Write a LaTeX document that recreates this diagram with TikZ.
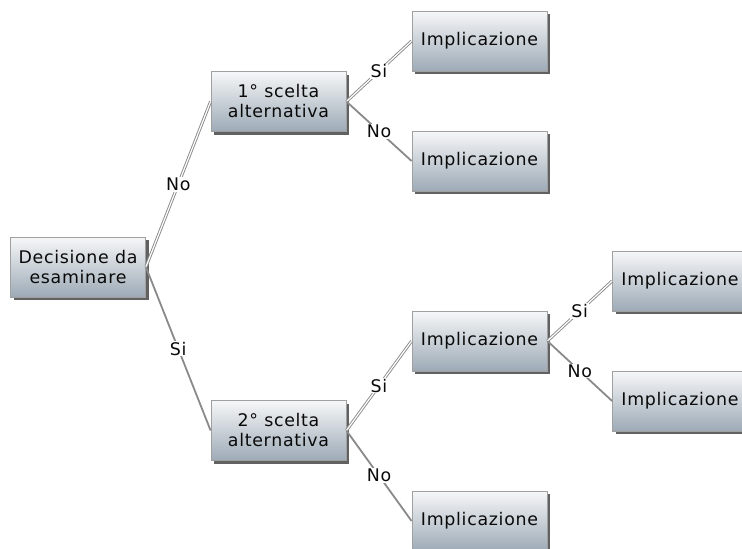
\documentclass[tikz,border=0pt]{standalone}
\usepackage{fontspec}
\setmainfont{DejaVu Sans}
\newfontfamily\boxfont{DejaVu Sans}[LetterSpace=4]
\usetikzlibrary{shadows}
\definecolor{boxtop}{HTML}{F6F7F8}
\definecolor{boxbot}{HTML}{9DAAB6}
\definecolor{boxline}{HTML}{A0A0A0}
\definecolor{edgecol}{HTML}{8A8A8A}
\definecolor{txt}{HTML}{0A0A0A}
\begin{document}
\begin{tikzpicture}[x=1pt,y=-1pt,
  box/.style={rectangle, draw=boxline, line width=0.8pt, top color=boxtop, bottom color=boxbot,
    minimum width=135pt, minimum height=60pt, inner sep=0pt, align=center,
    font=\boxfont\fontsize{17.4}{20}\selectfont, text=txt,
    drop shadow={shadow xshift=3pt, shadow yshift=-3pt, fill=black!62, opacity=1}},
  upedge/.style={draw=edgecol, line width=0.9pt, double=white, double distance=1.2pt},
  downedge/.style={draw=edgecol, line width=1.8pt},
  lab/.style={fill=white, inner sep=1pt, font=\boxfont\fontsize{17.4}{20}\selectfont, text=txt}
]
\useasboundingbox (0,0) rectangle (742,549);
\clip (0,0) rectangle (742,549);
\fill[white] (0,0) rectangle (742,549);

\node[box] (root) at (78,267) {Decisione da\\esaminare};
\node[box] (c1) at (278.5,101.5) {1° scelta\\alternativa};
\node[box] (c2) at (278.5,430.5) {2° scelta\\alternativa};
\node[box] (i1) at (479.5,41) {Implicazione};
\node[box] (i2) at (479.5,161) {Implicazione};
\node[box] (i3) at (479.5,341) {Implicazione};
\node[box] (i4) at (479.5,521) {Implicazione};
\node[box] (i5) at (680,281) {Implicazione};
\node[box] (i6) at (680,401) {Implicazione};

\draw[upedge] (root.east) -- node[lab]{No} (c1.west);
\draw[downedge] (root.east) -- node[lab]{Si} (c2.west);
\draw[upedge] (c1.east) -- node[lab]{Si} (i1.west);
\draw[downedge] (c1.east) -- node[lab]{No} (i2.west);
\draw[upedge] (c2.east) -- node[lab]{Si} (i3.west);
\draw[downedge] (c2.east) -- node[lab]{No} (i4.west);
\draw[upedge] (i3.east) -- node[lab]{Si} (i5.west);
\draw[downedge] (i3.east) -- node[lab]{No} (i6.west);
\end{tikzpicture}
\end{document}
